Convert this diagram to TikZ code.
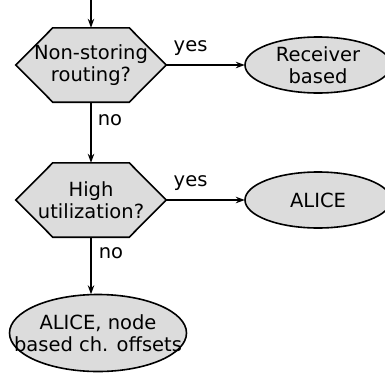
\documentclass[tikz,border=0pt]{standalone}
\usepackage{fontspec}
\setmainfont{DejaVu Sans}
\usetikzlibrary{arrows.meta,backgrounds}
\definecolor{boxfill}{RGB}{220,220,220}
\tikzset{
  txt/.style={font=\fontsize{19.5}{22.5}\selectfont},
  slot/.style={rectangle, inner sep=0pt, align=center, txt},
  border/.style={draw=black, line width=1.6pt, fill=boxfill, line join=miter},
  flow/.style={line width=1.2pt, -{Stealth[length=9pt,width=6.5pt]}},
  lbl/.style={txt, inner sep=0pt}
}
\begin{document}
\begin{tikzpicture}[x=1pt,y=-1pt]
  \clip (0,0) rectangle (385,372);
  \coordinate (entry) at (91,0);
  % question boxes (text slots; outlines drawn behind)
  \node[slot, minimum width=150pt, minimum height=74pt] (q1) at (91,65) {Non-storing\\routing?};
  \node[slot, minimum width=150pt, minimum height=74pt] (q2) at (91,200) {High\\utilization?};
  % outcomes
  \node[slot, minimum width=146pt, minimum height=56pt] (rb) at (318,65) {Receiver\\based};
  \node[slot, minimum width=146pt, minimum height=56pt] (alice) at (318,200) {ALICE};
  \node[slot, minimum width=177pt, minimum height=77pt] (nb) at (98,333) {ALICE, node\\based ch. offsets};
  \begin{scope}[on background layer]
    \fill[white] (0,0) rectangle (385,372);
    \foreach \q in {q1,q2}
      \draw[border] (\q.west) -- ([xshift=37pt]\q.north west) -- ([xshift=-37pt]\q.north east)
        -- (\q.east) -- ([xshift=-37pt]\q.south east) -- ([xshift=37pt]\q.south west) -- cycle;
    \draw[border] (rb.center) ellipse [x radius=73, y radius=28];
    \draw[border] (alice.center) ellipse [x radius=73, y radius=28];
    \draw[border] (nb.center) ellipse [x radius=88.5, y radius=38.5];
  \end{scope}
  \draw[flow] (entry) -- (q1.north);
  \draw[flow] (q1.east) -- node[lbl, pos=0.31, yshift=17pt] {yes} (rb.west);
  \draw[flow] (q1.south) -- node[lbl, pos=0.3, xshift=19pt] {no} (q2.north);
  \draw[flow] (q2.east) -- node[lbl, pos=0.31, yshift=17pt] {yes} (alice.west);
  \draw[flow] (q2.south) -- node[lbl, pos=0.28, xshift=20pt] {no} (q2.south |- nb.north);
\end{tikzpicture}
\end{document}
